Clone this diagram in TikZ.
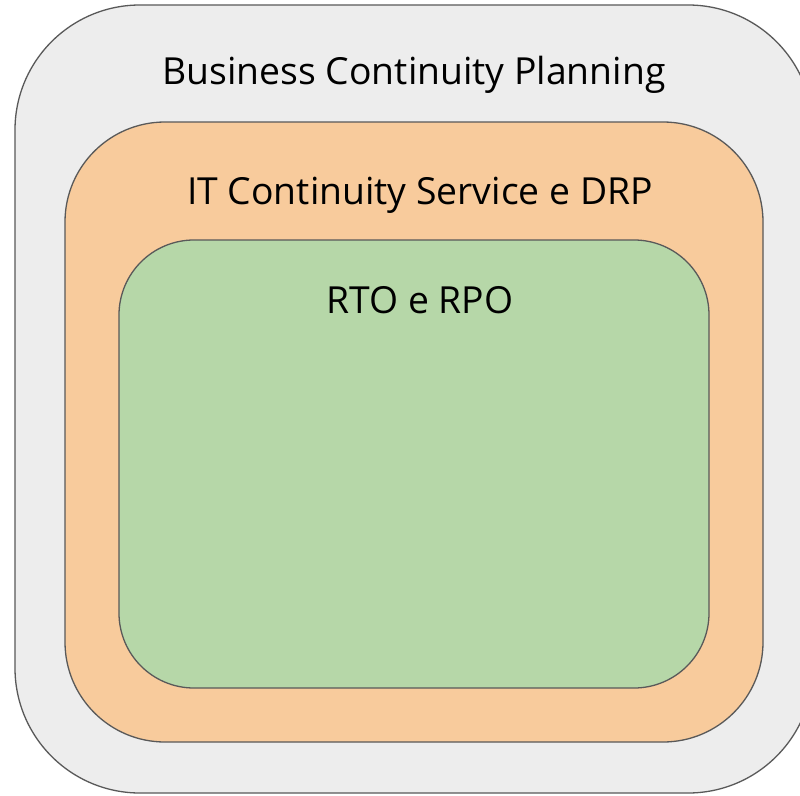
\documentclass[tikz,border=0pt]{standalone}
\usepackage{fontspec}
\setmainfont{Open Sans}
\begin{document}
\begin{tikzpicture}[x=1pt,y=-1pt,
  box/.style={draw=black!65,line width=1.3pt},
  lbl/.style={anchor=base,inner sep=0pt,font=\fontsize{37.3}{44}\selectfont}]
\useasboundingbox (0,0) rectangle (800,795);
\fill[white] (0,0) rectangle (800,795);
\draw[box,fill=black!7,rounded corners=125pt] (15,5) rectangle (813,793);
\draw[box,fill={rgb,255:red,248;green,203;blue,156},rounded corners=100pt] (65,122) rectangle (763,742);
\draw[box,fill={rgb,255:red,182;green,215;blue,168},rounded corners=75pt] (119,240) rectangle (709,688);
\node[lbl] (bcp) at (414,84) {Business Continuity Planning};
\node[lbl] (it) at (420,204) {IT Continuity Service e DRP};
\node[lbl] (rto) at (420,313) {RTO e RPO};
\end{tikzpicture}
\end{document}
